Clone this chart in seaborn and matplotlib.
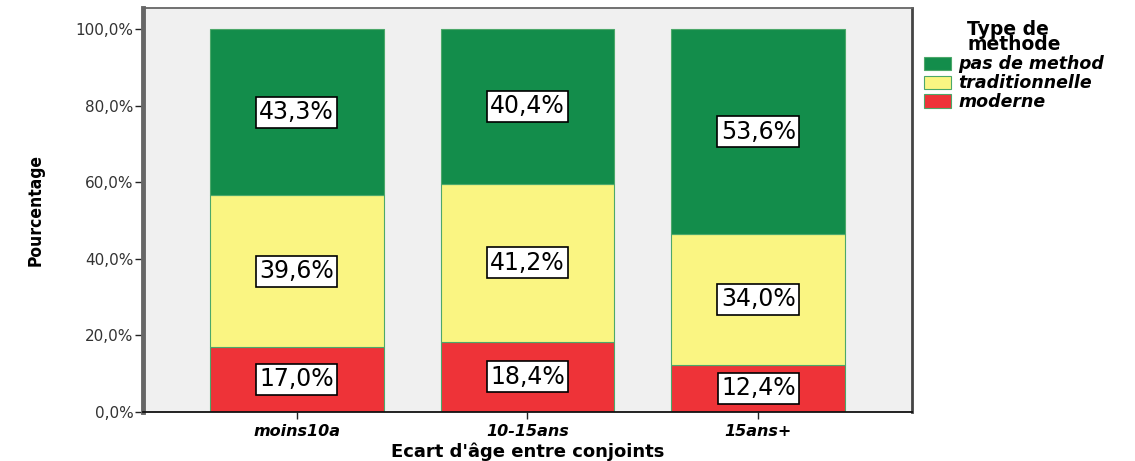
import matplotlib
matplotlib.use("Agg")
import matplotlib.pyplot as plt
import seaborn as sns
import numpy as np
from matplotlib.patches import Patch
from matplotlib.ticker import FuncFormatter

categories = ["moins10a", "10-15ans", "15ans+"]
moderne = [17.0, 18.4, 12.4]
traditionnelle = [39.6, 41.2, 34.0]
pas_de_method = [43.3, 40.4, 53.6]
series_names = ["pas de method", "traditionnelle", "moderne"]
colors = {"moderne": "#EE3338", "traditionnelle": "#FAF582", "pas de method": "#138D4B"}

sns.set_theme(style="white")
plt.rcParams["font.family"] = ["DejaVu Sans"]
plt.rcParams["text.color"] = "black"
plt.rcParams["axes.labelcolor"] = "black"
plt.rcParams["xtick.color"] = "black"
plt.rcParams["ytick.color"] = "black"

fig = plt.figure(figsize=(11.35, 4.61), dpi=100)
ax = fig.add_axes([0.126, 0.1063, 0.6775, 0.8763])
ax.set_facecolor("#F0F0F0")

stack = [("moderne", moderne), ("traditionnelle", traditionnelle), ("pas de method", pas_de_method)]
bottom = np.zeros(len(categories))
for name, vals in stack:
    vals = np.array(vals)
    sns.barplot(x=categories, y=vals, bottom=bottom, color=colors[name], width=0.753,
                edgecolor="#4CA86A", linewidth=0.8, saturation=1, ax=ax)
    for i, v in enumerate(vals):
        ax.text(i, bottom[i] + v / 2, f"{v:.1f}%".replace(".", ","),
                ha="center", va="center", fontsize=17, color="black",
                bbox=dict(boxstyle="square,pad=0.15", facecolor="white", edgecolor="black", linewidth=1.2))
    bottom = bottom + vals

ax.set_xlim(-0.665, 2.665)
ax.set_ylim(0, 105.5)
ax.set_yticks([0, 20, 40, 60, 80, 100])
ax.yaxis.set_major_formatter(FuncFormatter(lambda v, p: f"{v:.1f}%".replace(".", ",")))
ax.tick_params(axis="y", left=True, length=6, width=1, color="#222222", labelsize=11,
               labelcolor="#333333", pad=1)
ax.tick_params(axis="x", bottom=True, length=5, width=1, color="#222222", labelcolor="black", pad=4)
for lab in ax.get_xticklabels():
    lab.set_fontweight("bold")
    lab.set_fontstyle("italic")
    lab.set_fontsize(11.5)

for side, sp in ax.spines.items():
    sp.set_visible(True)
    sp.set_color("#666666")
    sp.set_linewidth(1.3)
ax.spines["bottom"].set_color("#111111")
ax.spines["right"].set_color("#444444")
ax.spines["right"].set_linewidth(2)
ax.spines["left"].set_linewidth(3.5)
ax.spines["left"].set_color("#666666")

ax.set_xlabel("Ecart d'âge entre conjoints", fontsize=13, fontweight="bold", color="black", labelpad=2)
ax.set_ylabel("Pourcentage", fontsize=12.5, fontweight="bold", fontstretch="condensed",
              color="black", labelpad=22)

handles = [Patch(facecolor=colors[n], edgecolor="#4CA86A", linewidth=0.8) for n in series_names]
leg = fig.legend(handles, series_names, title="Type de\nmethode", loc="upper left",
                 bbox_to_anchor=(0.800, 0.99), frameon=False, handlelength=1.6,
                 handleheight=0.8, handletextpad=0.4, labelspacing=0.05, labelcolor="black",
                 prop={"style": "italic", "weight": "bold", "size": 12.5})
leg.get_title().set_fontweight("bold")
leg.get_title().set_fontsize(13.5)
leg.get_title().set_linespacing(0.75)
leg.get_title().set_color("black")

fig.savefig("out.png", dpi=100)
